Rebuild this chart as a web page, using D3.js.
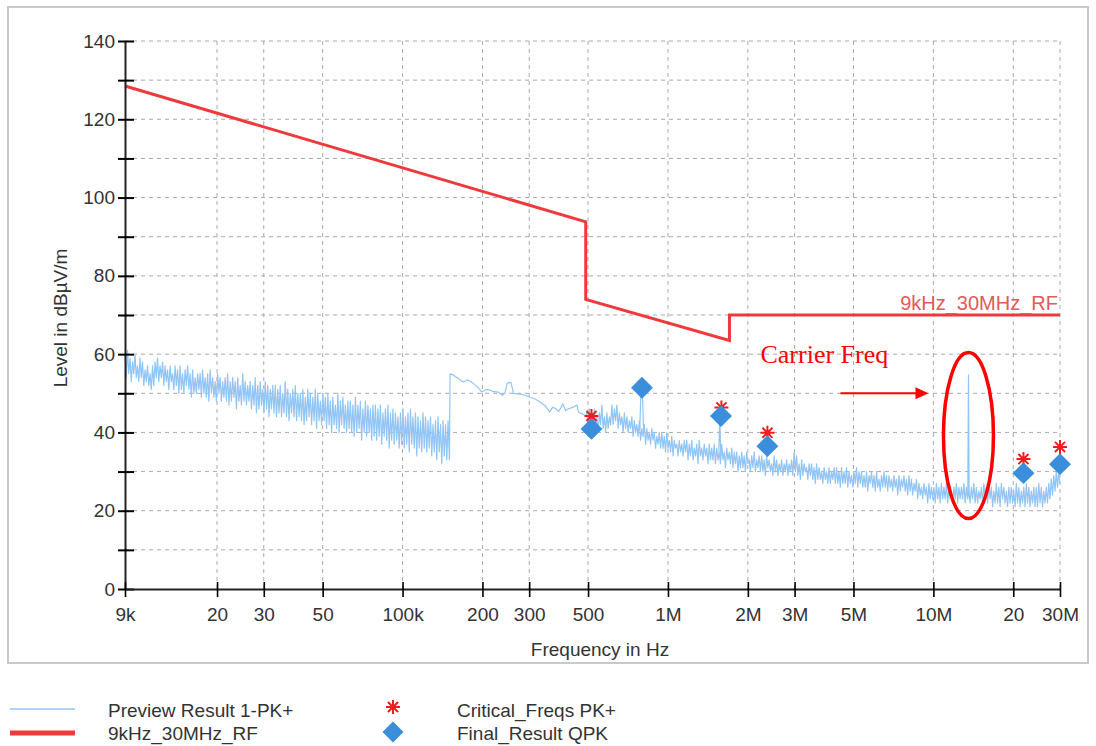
<!DOCTYPE html>
<html>
<head>
<meta charset="utf-8">
<script src="https://cdn.jsdelivr.net/npm/d3@7"></script>
<style>
    body { margin: 0; background: #fff; }
    text { font-family: Arial, "Liberation Sans", sans-serif; }
</style>
</head>
<body>
<div class="emi-chart"></div>
<script>
// all frequencies in kHz, levels in dBuV/m

// preview scan, 9k..150k (receiver sweep, levels)
const lowBandSweep = [9, 150];
const lowBandLevels = [
    60, 54, 61, 55, 59, 53, 58, 55, 60, 54, 57, 53, 59, 54, 58, 52, 56, 53, 57, 52,
    55, 51, 57, 52, 58, 54, 59, 53, 57, 54, 58, 52, 57, 53, 56, 51, 57, 53, 55, 51,
    57, 52, 56, 50, 57, 51, 55, 50, 56, 52, 57, 51, 55, 49, 56, 50, 54, 50, 55, 51,
    55, 49, 56, 50, 54, 49, 55, 48, 56, 50, 54, 49, 53, 48, 55, 50, 54, 48, 53, 49,
    54, 48, 55, 47, 53, 48, 54, 49, 53, 46, 54, 48, 52, 47, 55, 48, 53, 47, 52, 48,
    53, 46, 52, 47, 54, 45, 52, 46, 53, 47, 51, 45, 53, 46, 52, 44, 51, 46, 52, 45,
    52, 44, 51, 45, 52, 44, 50, 45, 53, 44, 51, 43, 50, 45, 51, 44, 52, 43, 50, 44,
    50, 43, 51, 42, 49, 43, 51, 44, 50, 42, 49, 43, 51, 41, 50, 43, 48, 42, 50, 43,
    49, 41, 50, 42, 48, 40, 49, 42, 47, 41, 50, 40, 48, 42, 49, 41, 47, 40, 48, 41,
    48, 40, 47, 39, 49, 40, 47, 41, 48, 38, 46, 40, 48, 39, 47, 40, 46, 38, 47, 39,
    47, 38, 46, 39, 47, 37, 45, 39, 46, 38, 47, 36, 45, 38, 46, 37, 45, 38, 44, 36,
    45, 37, 46, 36, 44, 37, 45, 35, 46, 37, 44, 36, 45, 34, 44, 36, 43, 35, 45, 36,
    44, 35, 43, 36, 44, 34, 42, 35, 43, 33, 44, 35, 42, 32, 43, 34, 42, 33, 43, 34
];

// 150k..490k the trace is smooth
const midBandFreqs = [150.2, 151, 155, 162, 169, 176, 184, 192, 199, 206, 213, 221, 229, 238,
    243, 248, 256, 262, 277, 290, 302, 315, 329, 345, 359, 367, 375, 388, 402, 411, 420,
    437, 454, 460, 466, 480, 490];
const midBandLevels = [33, 55, 54.7, 53.8, 52.9, 53.4, 52.6, 51.5, 50.3, 51, 50.8, 50.4, 50.3, 49.5,
    50, 52.6, 52.8, 50, 49.8, 49.5, 49, 48.6, 47.8, 46.8, 45.2, 46.4, 46.2, 45.4, 47.3, 45.6, 46,
    46.4, 47, 45.3, 45, 44.6, 44.2];

// 495k..30M
const highBandSweep = [495, 30000];
const highBandLevels = [
    45, 41, 46, 40, 44, 42, 46, 41, 44, 40, 45, 42, 47, 41, 44, 40, 45, 41, 44, 42,
    47, 42, 46, 43, 47, 41, 45, 42, 44, 40, 45, 41, 44, 40, 43, 41, 44, 39, 43, 40,
    42, 39, 43, 38, 41, 39, 42, 37, 41, 38, 40, 37, 41, 38, 40, 36, 39, 37, 40, 36,
    40, 36, 39, 35, 40, 36, 38, 35, 39, 34, 38, 36, 37, 34, 38, 35, 37, 34, 38, 35,
    38, 33, 37, 34, 38, 33, 36, 34, 37, 32, 38, 34, 36, 33, 37, 34, 36, 32, 37, 33,
    36, 33, 37, 32, 36, 33, 35, 32, 37, 33, 35, 31, 36, 33, 35, 32, 36, 31, 35, 32,
    35, 30, 34, 31, 35, 31, 34, 30, 35, 32, 33, 30, 34, 31, 35, 30, 33, 31, 34, 30,
    34, 30, 33, 29, 34, 31, 33, 30, 32, 29, 34, 30, 33, 29, 32, 30, 33, 29, 32, 30,
    33, 29, 32, 30, 33, 29, 35, 30, 34, 29, 32, 28, 33, 29, 32, 30, 31, 28, 32, 29,
    32, 28, 31, 27, 32, 28, 31, 28, 30, 27, 31, 28, 30, 27, 31, 27, 30, 28, 31, 27,
    31, 27, 30, 26, 31, 27, 30, 27, 31, 26, 30, 27, 29, 26, 30, 27, 31, 26, 30, 27,
    30, 26, 29, 26, 30, 25, 29, 27, 30, 26, 29, 25, 30, 26, 28, 25, 29, 26, 30, 26,
    29, 25, 29, 26, 28, 25, 29, 26, 28, 24, 29, 25, 28, 26, 29, 25, 28, 24, 29, 25,
    28, 24, 27, 25, 28, 23, 27, 24, 26, 23, 27, 24, 26, 22, 27, 23, 26, 23, 26, 22,
    27, 23, 26, 22, 27, 23, 26, 23, 27, 22, 26, 23, 25, 22, 26, 23, 27, 22, 26, 23,
    26, 23, 27, 22, 26, 23, 25, 22, 26, 23, 27, 22, 26, 22, 25, 23, 26, 22, 27, 23,
    26, 22, 27, 23, 26, 21, 25, 22, 27, 22, 26, 21, 27, 23, 26, 22, 25, 21, 26, 22,
    26, 22, 25, 21, 27, 22, 26, 21, 25, 22, 26, 21, 27, 22, 26, 21, 25, 22, 26, 21,
    26, 21, 27, 22, 26, 21, 25, 22, 26, 22, 27, 23, 28, 24, 29, 25, 30, 26, 30, 27
];

// narrow peaks, [kHz, dB]
const spike800k = [[783, 41], [792, 51.5], [800, 51.5], [810, 40]];
const spike1M57 = [[1555, 35], [1568, 45], [1580, 34]];
const carrierSpike = [[13480, 24], [13560, 54.7], [13640, 24]];
const carrierFreq = 13560;

// limit line
const limitFreqs = [9, 490, 490, 1705, 1705, 30000];
const limitLevels = [128.5, 93.8, 74, 63.5, 70, 70];
const limitName = "9kHz_30MHz_RF";

const criticalFreqs = [515, 1590, 2370, 21850, 30000];
const criticalLevels = [44.2, 46.4, 39.9, 33.2, 36.3];

const finalFreqs = [515, 798, 1584, 2370, 21850, 30000];
const finalLevels = [40.9, 51.4, 44.2, 36.5, 29.6, 31.9];

const xTickValues = [9, 20, 30, 50, 100, 200, 300, 500, 1000, 2000, 3000, 5000, 10000, 20000, 30000];
const xTickLabels = ['9k', '20', '30', '50', '100k', '200', '300', '500', '1M', '2M', '3M', '5M', '10M', '20', '30M'];
const yMajorTicks = [0, 20, 40, 60, 80, 100, 120, 140];
const yMinorTicks = [10, 30, 50, 70, 90, 110, 130];

const legendItems = ["Preview Result 1-PK+", "9kHz_30MHz_RF", "Critical_Freqs PK+", "Final_Result QPK"];

class EmiChart {
    constructor() {
        this.width = 1096;
        this.height = 746;
        this.traceColor = '#92c5f6';
        this.limitColor = '#ee3a3d';
        this.markColor = '#3b8edc';
        this.critColor = '#f21c1c';

        this.x = d3.scaleLog().domain([9, 30000]).range([125, 1060]);
        this.y = d3.scaleLinear().domain([0, 140]).range([589, 41]);

        this.draw();
    }

    sweep(range, levels) {
        const [f0, f1] = range;
        const n = levels.length;
        return levels.map((v, i) => [f0 * Math.pow(f1 / f0, i / (n - 1)), v]);
    }

    star(r) {
        const d = r * 0.72;
        return `M0,${-r}V${r}M${-r},0H${r}M${-d},${-d}L${d},${d}M${-d},${d}L${d},${-d}`;
    }

    draw() {
        const x = this.x, y = this.y;

        const svg = d3.select(".emi-chart").append("svg")
            .attr("width", this.width)
            .attr("height", this.height);

        svg.append("rect")
            .attr("x", 8).attr("y", 7)
            .attr("width", 1080).attr("height", 656)
            .attr("fill", "#fff")
            .attr("stroke", "#c9c9c9")
            .attr("stroke-width", 2);

        // grid
        const grid = svg.append("g").attr("stroke", "#aaa").attr("stroke-dasharray", "4,4");
        grid.selectAll(".hgrid")
            .data(yMajorTicks.concat(yMinorTicks).filter(d => d > 0))
            .join("line")
            .attr("x1", x.range()[0]).attr("x2", x.range()[1])
            .attr("y1", d => y(d)).attr("y2", d => y(d));
        grid.selectAll(".vgrid")
            .data(xTickValues.slice(1))
            .join("line")
            .attr("x1", d => x(d)).attr("x2", d => x(d))
            .attr("y1", y.range()[0]).attr("y2", y.range()[1]);

        // preview trace
        const preview = [
            ...this.sweep(lowBandSweep, lowBandLevels),
            ...midBandFreqs.map((f, i) => [f, midBandLevels[i]]),
            ...this.sweep(highBandSweep, highBandLevels)
        ];
        const line = d3.line().x(d => x(d[0])).y(d => y(d[1]));

        svg.append("g")
            .attr("fill", "none")
            .attr("stroke", this.traceColor)
            .attr("stroke-width", 1.2)
            .attr("stroke-linejoin", "round")
            .selectAll("path")
            .data([preview, spike800k, spike1M57, carrierSpike])
            .join("path")
            .attr("d", line);

        // limit
        svg.append("path")
            .datum(limitFreqs.map((f, i) => [f, limitLevels[i]]))
            .attr("fill", "none")
            .attr("stroke", this.limitColor)
            .attr("stroke-width", 3)
            .attr("d", line);

        svg.append("text")
            .attr("x", x(30000) - 2)
            .attr("y", y(limitLevels[limitLevels.length - 1]) - 5)
            .attr("text-anchor", "end")
            .attr("font-size", 20)
            .attr("fill", "#e25a5a")
            .text(limitName);

        // critical freqs and final results
        svg.append("g")
            .selectAll("path")
            .data(criticalFreqs)
            .join("path")
            .attr("transform", (d, i) => `translate(${x(d)},${y(criticalLevels[i])})`)
            .attr("d", this.star(7))
            .attr("stroke", this.critColor)
            .attr("stroke-width", 2);

        svg.append("g")
            .selectAll("path")
            .data(finalFreqs)
            .join("path")
            .attr("transform", (d, i) => `translate(${x(d)},${y(finalLevels[i])}) rotate(45)`)
            .attr("d", d3.symbol().type(d3.symbolSquare).size(240))
            .attr("fill", this.markColor);

        // axes
        const yAxis = svg.append("g")
            .attr("transform", `translate(${x.range()[0]},0)`)
            .call(d3.axisLeft(y)
                .tickValues(yMajorTicks.concat(yMinorTicks))
                .tickSize(7).tickSizeOuter(0).tickPadding(3)
                .tickFormat(d => d % 20 === 0 ? d : ''));
        yAxis.selectAll(".tick line").attr("x1", 9).attr("stroke-width", 2);

        const xAxis = svg.append("g")
            .attr("transform", `translate(0,${y.range()[0]})`)
            .call(d3.axisBottom(x)
                .tickValues(xTickValues)
                .tickSize(8).tickSizeOuter(0).tickPadding(11)
                .tickFormat((d, i) => xTickLabels[i]));
        xAxis.selectAll(".tick line").attr("y1", -7).attr("stroke-width", 1.6);

        svg.selectAll(".domain").attr("stroke", "#222").attr("stroke-width", 2);
        svg.selectAll(".tick text")
            .attr("font-size", 19)
            .attr("fill", "#333");

        svg.append("text")
            .attr("x", 600).attr("y", 656)
            .attr("text-anchor", "middle")
            .attr("font-size", 19)
            .attr("fill", "#333")
            .text("Frequency in Hz");

        svg.append("text")
            .attr("transform", "translate(67,318) rotate(-90)")
            .attr("text-anchor", "middle")
            .attr("font-size", 19)
            .attr("fill", "#333")
            .text("Level in dBµV/m");

        this.drawCarrierNote(svg);
        this.drawLegend(svg);
    }

    drawCarrierNote(svg) {
        const x = this.x, y = this.y;
        const cx = x(carrierFreq);

        svg.append("ellipse")
            .attr("cx", cx)
            .attr("cy", y(39.2))
            .attr("rx", 25)
            .attr("ry", (y(18) - y(60.4)) / 2)
            .attr("fill", "none")
            .attr("stroke", "#ff0000")
            .attr("stroke-width", 3.5);

        const ay = y(50);
        svg.append("line")
            .attr("x1", cx - 128).attr("x2", cx - 50)
            .attr("y1", ay).attr("y2", ay)
            .attr("stroke", "#ff0000")
            .attr("stroke-width", 2);
        svg.append("path")
            .attr("d", `M${cx - 40},${ay}L${cx - 53},${ay - 6}L${cx - 53},${ay + 6}Z`)
            .attr("fill", "#ff0000");

        svg.append("text")
            .attr("x", cx - 208)
            .attr("y", y(57.7))
            .attr("font-size", 26)
            .style("font-family", "'Times New Roman', 'Liberation Serif', serif")
            .attr("fill", "#ff0000")
            .text("Carrier Freq");
    }

    drawLegend(svg) {
        const g = svg.append("g").attr("font-size", 19).attr("fill", "#333");

        g.append("line")
            .attr("x1", 10).attr("x2", 75).attr("y1", 709).attr("y2", 709)
            .attr("stroke", this.traceColor).attr("stroke-width", 1.5);
        g.append("line")
            .attr("x1", 10).attr("x2", 75).attr("y1", 733).attr("y2", 733)
            .attr("stroke", this.limitColor).attr("stroke-width", 5);
        g.append("path")
            .attr("transform", "translate(393,707)")
            .attr("d", this.star(7))
            .attr("stroke", this.critColor).attr("stroke-width", 2);
        g.append("path")
            .attr("transform", "translate(393,732) rotate(45)")
            .attr("d", d3.symbol().type(d3.symbolSquare).size(220))
            .attr("fill", this.markColor);

        const pos = [[108, 717], [108, 740], [457, 717], [457, 740]];
        g.selectAll("text")
            .data(legendItems)
            .join("text")
            .attr("x", (d, i) => pos[i][0])
            .attr("y", (d, i) => pos[i][1])
            .text(d => d);
    }
}

new EmiChart();
</script>
</body>
</html>
